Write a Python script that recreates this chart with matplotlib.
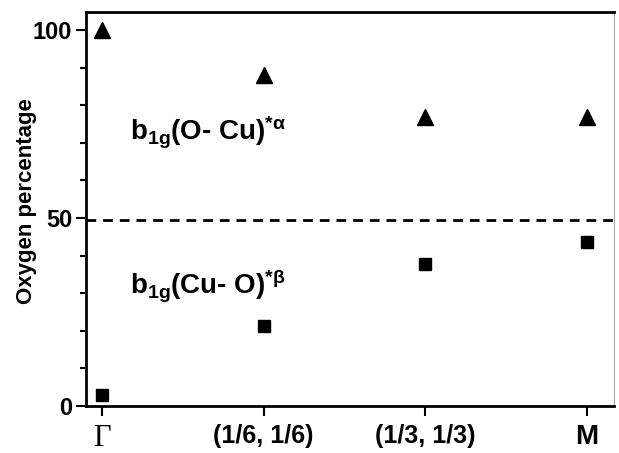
import matplotlib
matplotlib.use("Agg")
import matplotlib.pyplot as plt
from matplotlib.ticker import MultipleLocator

categories = ["Γ", "(1/6, 1/6)", "(1/3, 1/3)", "M"]
alpha_vals = [100, 88, 77, 77]
beta_vals = [3, 21.3, 37.8, 43.6]
threshold = 49.5

plt.rcParams['font.family'] = ['Liberation Sans', 'DejaVu Sans']
plt.rcParams['font.weight'] = 'bold'
plt.rcParams['mathtext.fontset'] = 'custom'
plt.rcParams['mathtext.rm'] = 'Liberation Sans:bold'
plt.rcParams['mathtext.it'] = 'Liberation Sans:bold'
plt.rcParams['mathtext.bf'] = 'Liberation Sans:bold'
plt.rcParams['mathtext.default'] = 'rm'

fig = plt.figure(figsize=(6.19, 4.53), dpi=100)
ax = fig.add_axes([0.139, 0.1038, 0.853, 0.8697])
x = list(range(len(categories)))
ax.plot(x, alpha_vals, linestyle='none', marker='^', markersize=11, color='black')
ax.plot(x, beta_vals, linestyle='none', marker='s', markersize=8, color='black')
ax.axhline(threshold, color='black', linestyle=(0, (3.5, 2.5)), linewidth=2)

ax.set_xlim(-0.1, 3.17)
ax.set_ylim(0, 104.8)
ax.set_xticks(x)
ax.set_xticklabels(categories)
for i, lab in enumerate(ax.get_xticklabels()):
    if i == 0:
        lab.set_family(['Liberation Serif'])
        lab.set_fontweight('normal')
        lab.set_fontsize(22)
    elif i == 3:
        lab.set_fontsize(20)
    else:
        lab.set_fontsize(18)
ax.set_yticks([0, 50, 100])
ax.yaxis.set_minor_locator(MultipleLocator(10))
ax.tick_params(axis='y', which='major', labelsize=17, length=7, width=1.5, direction='out', pad=3)
ax.tick_params(axis='y', which='minor', length=4, width=1.5, direction='out')
ax.tick_params(axis='x', which='major', length=7, width=1.5, direction='out', pad=6)
ax.set_ylabel("Oxygen percentage", fontsize=16, fontweight='bold')
ax.yaxis.set_label_coords(-0.092, 0.52)

for s in ['left', 'bottom', 'top']:
    ax.spines[s].set_linewidth(2)
ax.spines['right'].set_linewidth(0.8)
ax.spines['right'].set_color('#aaaaaa')

ax.text(0.17, 70.5, r"b$_{1g}$(O- Cu)$^{*\alpha}$", fontsize=20, fontweight='bold')
ax.text(0.17, 30, r"b$_{1g}$(Cu- O)$^{*\beta}$", fontsize=20, fontweight='bold')

fig.savefig("out.png", dpi=100)
